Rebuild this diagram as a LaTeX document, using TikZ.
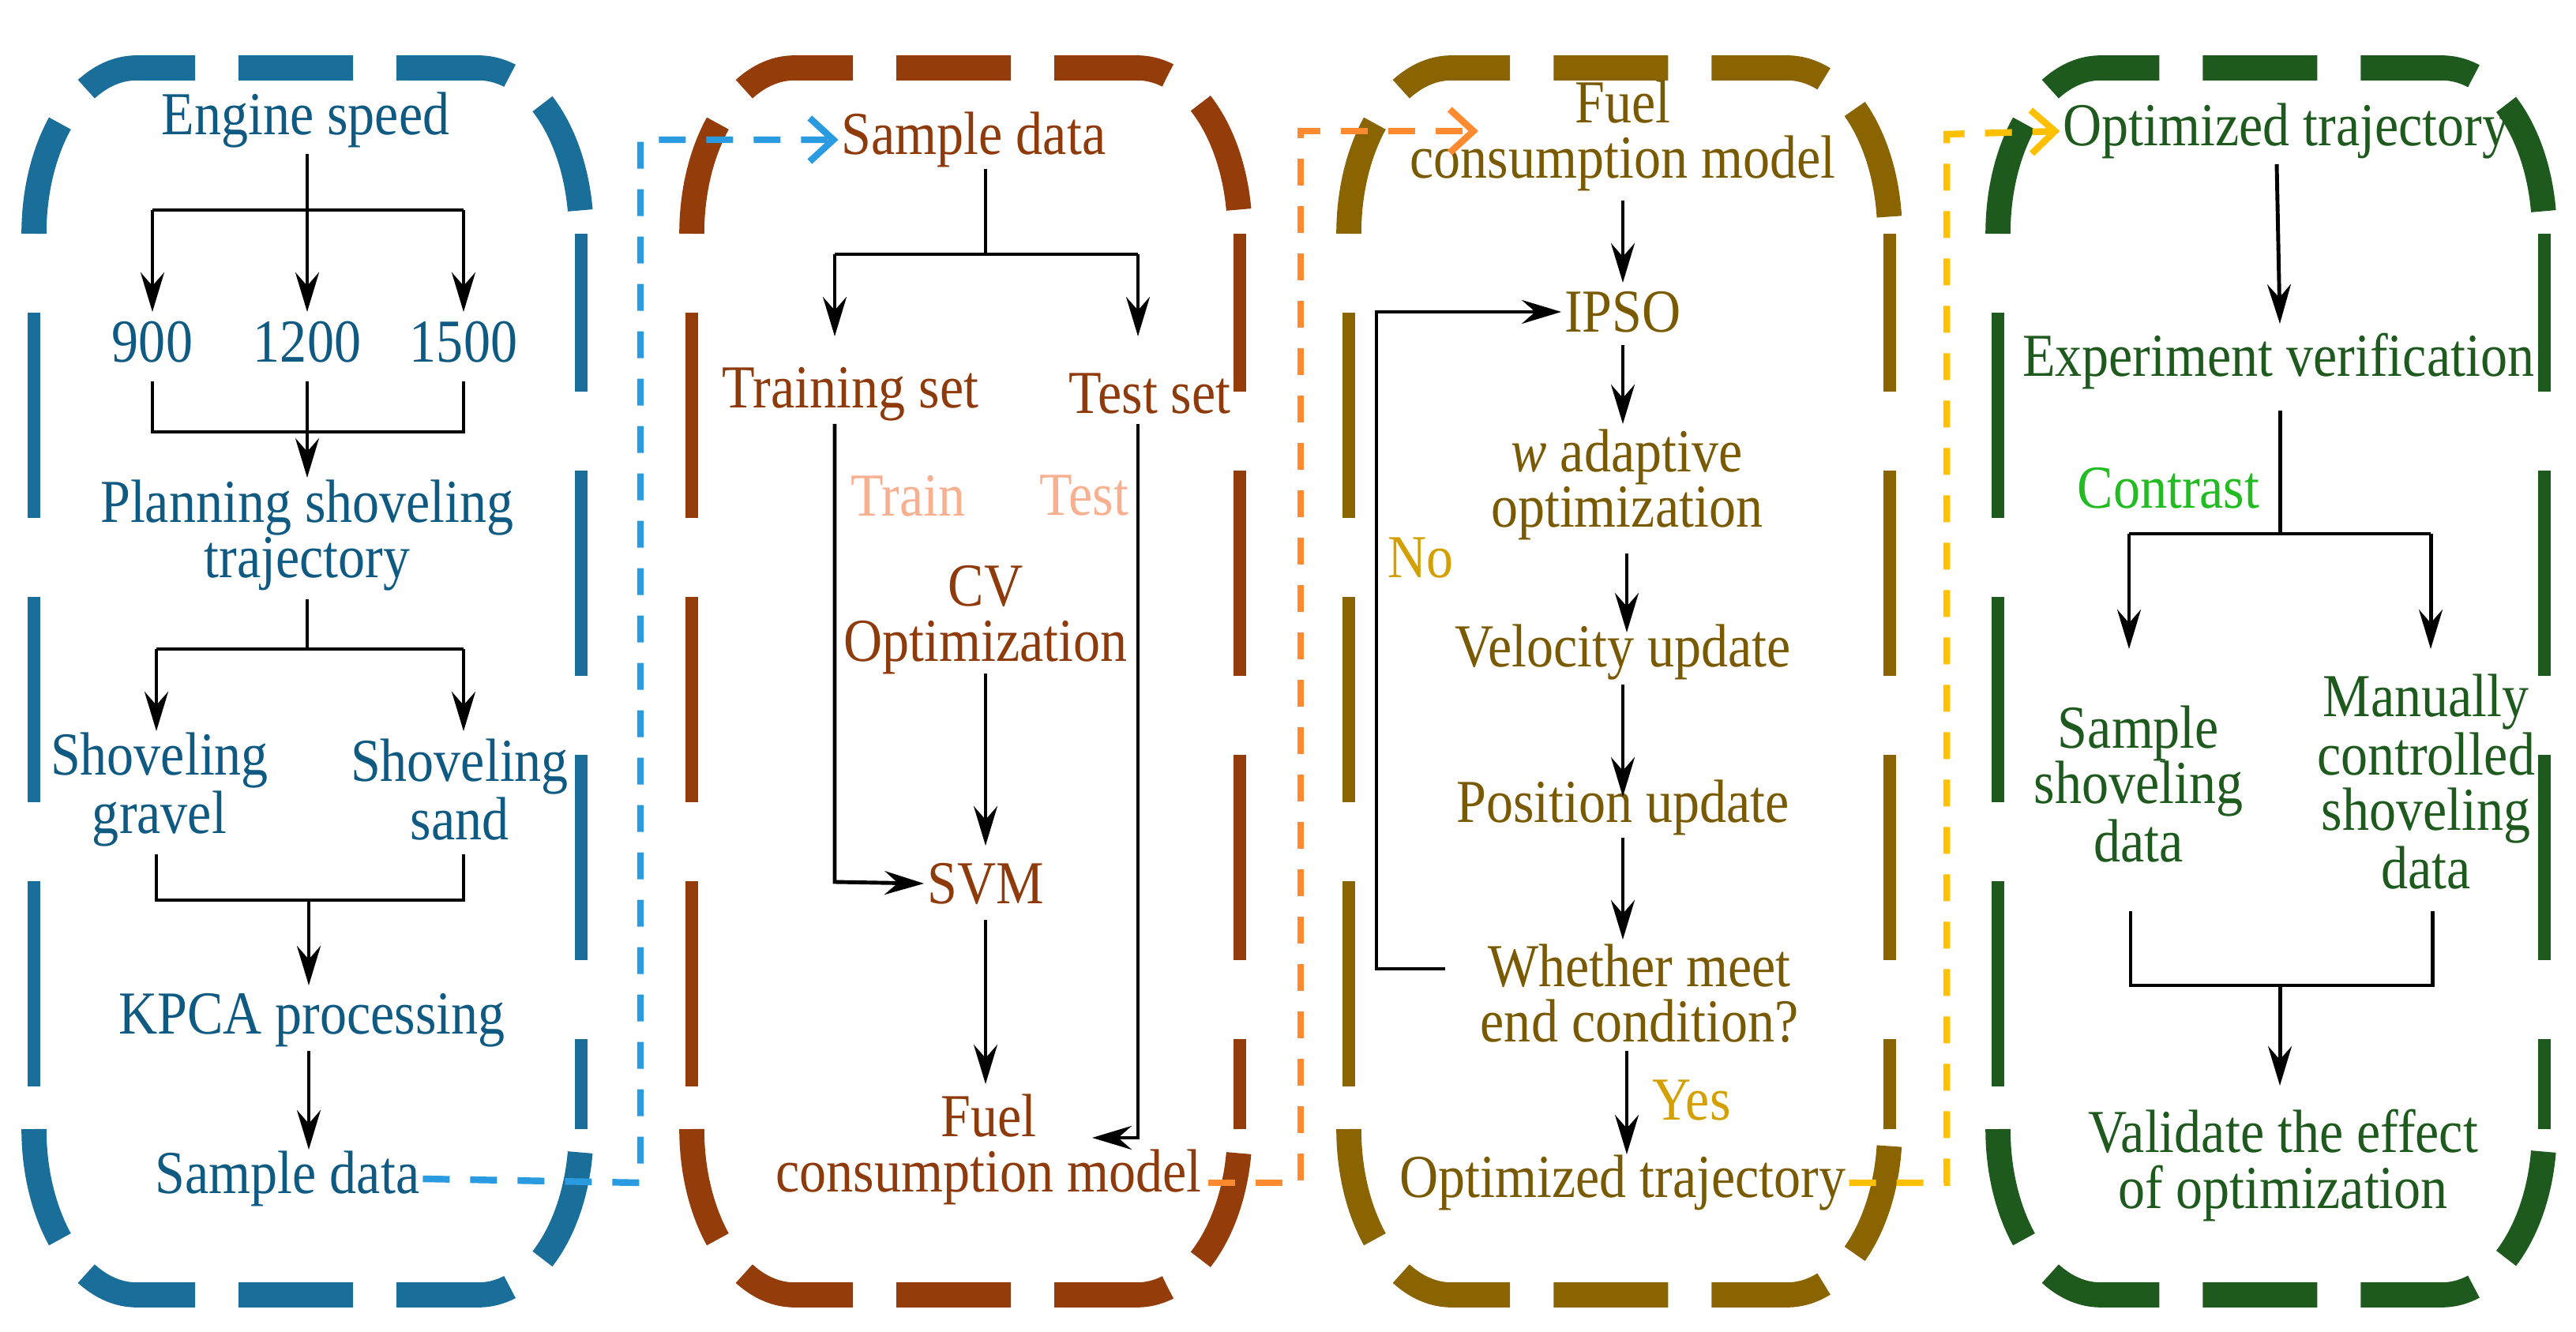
\documentclass[tikz,border=0pt]{standalone}
\usepackage{fontspec}
\setmainfont[FakeStretch=0.88]{Liberation Serif}
\usetikzlibrary{arrows.meta}
\definecolor{cA}{HTML}{1A6E9A}\definecolor{tA}{HTML}{0F5A82}
\definecolor{cB}{HTML}{943C0A}\definecolor{tB}{HTML}{8E3A0A}
\definecolor{cC}{HTML}{8A6400}\definecolor{tC}{HTML}{7A5A00}
\definecolor{cD}{HTML}{1E5A1E}\definecolor{tD}{HTML}{1E5A1E}
\definecolor{lb}{HTML}{2A9BE0}\definecolor{lo}{HTML}{FF8A30}\definecolor{ly}{HTML}{FFC000}
\definecolor{sal}{HTML}{F8B090}\definecolor{gold}{HTML}{D4A000}\definecolor{grn}{HTML}{22BB22}
\newcommand{\dbox}[5]{% color, left, right, top, bottom
  \draw[#1,line width=9pt,dash pattern=on 1.45cm off 0.55cm]
    (#2,#4-2.1) arc[start angle=180,end angle=90,x radius=1.3cm,y radius=2.1cm]
    -- (#3-1.3,#4) arc[start angle=90,end angle=0,x radius=1.3cm,y radius=2.1cm];
  \draw[#1,line width=9pt,dash pattern=on 1.45cm off 0.55cm]
    (#2,#5+2.1) arc[start angle=180,end angle=270,x radius=1.3cm,y radius=2.1cm]
    -- (#3-1.3,#5) arc[start angle=270,end angle=360,x radius=1.3cm,y radius=2.1cm];
  \draw[#1,line width=4.6pt,dash pattern=on 2.6cm off 1.0cm,dash phase=2.6cm]
    (#2,#4-2.1) -- (#2,#5+2.1);
  \draw[#1,line width=4.6pt,dash pattern=on 2.6cm off 1.0cm,dash phase=0.6cm]
    (#3,#4-2.1) -- (#3,#5+2.1);
}
\begin{document}
\begin{tikzpicture}[
  t/.style={font=\fontsize{22}{20}\selectfont,inner sep=1pt,align=center},
  ar/.style={line width=1.4pt,-{Stealth[length=0.5cm,width=0.3cm,inset=0.17cm]}},
  ln/.style={line width=1.4pt},
  cn/.style={line width=2.4pt,dash pattern=on 0.34cm off 0.26cm,-{Straight Barb[length=0.3cm,width=0.55cm,line width=2.4pt]}}
]
\useasboundingbox (0,0) rectangle (32.62,-16.87);
% boxes
\dbox{cA}{0.43}{7.36}{-0.86}{-16.4}
\dbox{cB}{8.76}{15.70}{-0.86}{-16.4}
\dbox{cC}{17.08}{23.93}{-0.86}{-16.4}
\dbox{cD}{25.30}{32.22}{-0.86}{-16.4}

% ---- box 1
\node[t,tA] (es) at (3.87,-1.52) {Engine speed};
\node[t,tA] (n9) at (1.93,-4.33) {900};
\node[t,tA] (n12) at (3.89,-4.33) {1200};
\node[t,tA] (n15) at (5.87,-4.33) {1500};
\node[t,tA] (pl) at (3.89,-6.78) {Planning shoveling\\trajectory};
\node[t,tA] (sg) at (2.02,-10.0) {Shoveling\\gravel};
\node[t,tA] (ss) at (5.82,-10.0) {Shoveling\\sand};
\node[t,tA] (kp) at (3.95,-12.92) {KPCA processing};
\node[t,tA] (sd1) at (3.64,-14.93) {Sample data};
\coordinate (a1) at (3.89,-2.66); \coordinate (a1l) at (1.93,-2.66); \coordinate (a1r) at (5.87,-2.66);
\draw[ln] (3.89,-1.95) -- (a1) (a1l) -- (a1r);
\draw[ar] (a1l) -- (1.93,-3.95);\draw[ar] (a1) -- (3.89,-3.95);\draw[ar] (a1r) -- (5.87,-3.95);
\coordinate (b1l) at (1.93,-5.47); \coordinate (b1r) at (5.87,-5.47); \coordinate (b1) at (3.89,-5.47);
\draw[ln] (1.93,-4.83) -- (b1l) -- (b1r) -- (5.87,-4.83) (3.89,-4.83) -- (b1);
\draw[ar] (b1) -- (3.89,-6.05);
\coordinate (c1) at (3.89,-8.22); \coordinate (c1l) at (1.98,-8.22); \coordinate (c1r) at (5.87,-8.22);
\draw[ln] (3.89,-7.59) -- (c1) (c1l) -- (c1r);
\draw[ar] (c1l) -- (1.98,-9.26);\draw[ar] (c1r) -- (5.87,-9.26);
\coordinate (d1l) at (1.98,-11.4); \coordinate (d1r) at (5.87,-11.4); \coordinate (d1) at (3.91,-11.4);
\draw[ln] (1.98,-10.82) -- (d1l) -- (d1r) -- (5.87,-10.82);
\draw[ar] (d1) -- (3.91,-12.48);
\draw[ar] (3.91,-13.31) -- (3.91,-14.56);

% ---- box 2
\node[t,tB] (sd2) at (12.33,-1.77) {Sample data};
\node[t,tB] (tr) at (10.77,-4.99) {Training set};
\node[t,tB] (ts) at (14.56,-4.99) {Test set};
\node[t,sal] (trn) at (11.5,-6.28) {Train};
\node[t,sal] (tst) at (13.73,-6.28) {Test};
\node[t,tB] (cv) at (12.48,-7.85) {CV\\Optimization};
\node[t,tB] (svm) at (12.48,-11.19) {SVM};
\node[t,tB] (fc) at (12.52,-14.56) {Fuel\\consumption model};
\coordinate (e2) at (12.48,-3.22); \coordinate (e2l) at (10.57,-3.22); \coordinate (e2r) at (14.41,-3.22);
\draw[ln] (12.48,-2.14) -- (e2) (e2l) -- (e2r);
\draw[ar] (e2l) -- (10.57,-4.26);\draw[ar] (e2r) -- (14.41,-4.26);
\draw[ar] (12.48,-8.53) -- (12.48,-10.71);
\coordinate (f2) at (10.57,-11.17);
\draw[ar] (10.57,-5.37) -- (f2) -- (svm.west);
\draw[ar] (12.48,-11.65) -- (12.48,-13.73);
\coordinate (g2) at (14.41,-14.41);
\draw[ar] (14.41,-5.37) -- (g2) -- (13.83,-14.41);

% ---- box 3
\node[t,tC] (fc3) at (20.55,-1.72) {Fuel\\consumption model};
\node[t,tC] (ip) at (20.55,-3.95) {IPSO};
\node[t,tC] (wa) at (20.6,-6.14) {\textit{w} adaptive\\optimization};
\node[t,tC] (vu) at (20.55,-8.26) {Velocity update};
\node[t,tC] (pu) at (20.55,-10.23) {Position update};
\node[t,tC] (wm) at (20.76,-12.58) {Whether meet\\end condition?};
\node[t,tC] (ot3) at (20.55,-14.98) {Optimized trajectory};
\node[t,gold] (no) at (17.99,-7.07) {No};
\node[t,gold] (yes) at (21.42,-13.94) {Yes};
\draw[ar] (20.55,-2.54) -- (20.55,-3.58);
\draw[ar] (20.55,-4.37) -- (20.55,-5.37);
\draw[ar] (20.6,-7.01) -- (20.6,-8.01);
\draw[ar] (20.55,-8.67) -- (20.55,-10.09);
\draw[ar] (20.55,-10.61) -- (20.55,-11.9);
\coordinate (h3) at (17.43,-12.27); \coordinate (h3t) at (17.43,-3.95);
\draw[ar] (18.3,-12.27) -- (h3) -- (h3t) -- (ip.west);
\draw[ar] (20.6,-13.31) -- (20.6,-14.62);

% ---- box 4
\node[t,tD] (ot4) at (28.95,-1.66) {Optimized trajectory};
\node[t,tD] (ev) at (28.85,-4.58) {Experiment verification};
\node[t,grn] (con) at (27.46,-6.18) {Contrast};
\node[t,tD] (ssd) at (27.08,-9.93) {Sample\\shoveling\\data};
\node[t,tD] (mcs) at (30.72,-9.9) {Manually\\controlled\\shoveling\\data};
\node[t,tD] (val) at (28.91,-14.76) {Validate the effect\\of optimization};
\draw[ar] (28.83,-2.08) -- (28.87,-4.1);
\coordinate (i4) at (28.87,-6.76); \coordinate (i4l) at (26.96,-6.76); \coordinate (i4r) at (30.78,-6.76);
\draw[ln] (28.87,-5.2) -- (i4) (i4l) -- (i4r);
\draw[ar] (i4l) -- (26.96,-8.22);\draw[ar] (i4r) -- (30.78,-8.22);
\coordinate (j4l) at (26.98,-12.48); \coordinate (j4r) at (30.8,-12.48); \coordinate (j4) at (28.87,-12.48);
\draw[ln] (26.98,-11.54) -- (j4l) -- (j4r) -- (30.8,-11.54);
\draw[ar] (j4) -- (28.87,-13.75);

% ---- inter-box connectors
\coordinate (k1) at (8.11,-14.98); \coordinate (k2) at (8.11,-1.77);
\draw[cn,lb] (sd1.east) -- (k1) -- (k2) -- (sd2.west);
\coordinate (l1) at (16.47,-14.98); \coordinate (l2) at (16.47,-1.66);
\draw[cn,lo] (15.3,-14.98) -- (l1) -- (l2) -- (18.72,-1.66);
\coordinate (m1) at (24.65,-14.98); \coordinate (m2) at (24.65,-1.7);
\draw[cn,ly] (ot3.east) -- (m1) -- (m2) -- (ot4.west);
\end{tikzpicture}
\end{document}
